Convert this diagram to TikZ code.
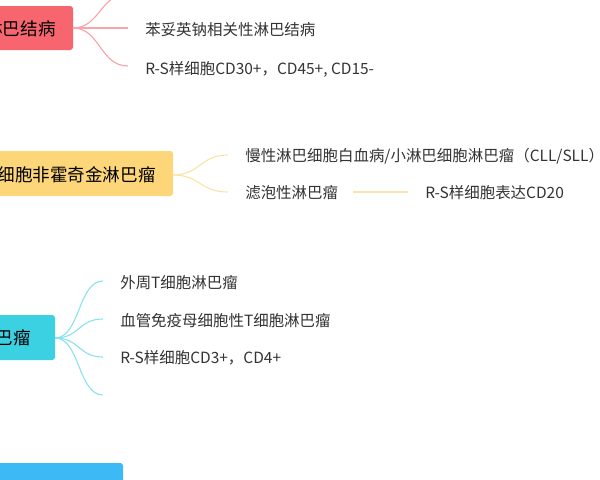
\documentclass[tikz,border=0pt]{standalone}
\usepackage{fontspec}
\setmainfont{Noto Sans CJK SC}
\usetikzlibrary{positioning}
\definecolor{redbox}{HTML}{F7656F}
\definecolor{redline}{HTML}{F9A3AA}
\definecolor{yelbox}{HTML}{FDD67A}
\definecolor{yelline}{HTML}{FCE3A8}
\definecolor{cyanbox}{HTML}{3CD0E3}
\definecolor{cyanline}{HTML}{8BE2EE}
\definecolor{bluebox}{HTML}{3DB9F5}
\definecolor{txt}{HTML}{333333}

\begin{document}
\begin{tikzpicture}[x=0.025cm,y=-0.025cm]
\tikzstyle{topic}=[rectangle,rounded corners=1.5pt,anchor=east,align=right,inner xsep=0pt,font=\fontsize{12.5}{14}\selectfont,text=black]
\tikzstyle{leaf}=[anchor=west,inner sep=0pt,font=\fontsize{11}{13}\selectfont,text=txt]
\tikzstyle{twig}=[line width=0.8pt]
\useasboundingbox (0,0) rectangle (600,480);
\clip (0,0) rectangle (600,480);
% red group
\fill[redbox,rounded corners=2pt] (-40,6) rectangle (73,50);
\node[topic] (lymph) at (56,29) {淋巴结病};
\coordinate (r0) at (128,-6);
\coordinate (r1) at (128,28);
\coordinate (r2) at (128,66);
\foreach \c in {r0,r1,r2}
  \draw[twig,redline] (73,28) .. controls (100,28) and (100,28|-\c) .. (\c);
\node[leaf] (phen) at (145,30) {苯妥英钠相关性淋巴结病};
\node[leaf] (rs1) at (145,69) {R-S样细胞CD30+，CD45+, CD15-};
% yellow group
\fill[yelbox,rounded corners=2pt] (-40,151) rectangle (173,196);
\node[topic] (bcell) at (156,175) {B细胞非霍奇金淋巴瘤};
\coordinate (y1) at (228,155);
\coordinate (y2) at (228,192);
\foreach \c in {y1,y2}
  \draw[twig,yelline] (173,175) .. controls (200,175) and (200,175|-\c) .. (\c);
\node[leaf] (cll) at (245,156) {慢性淋巴细胞白血病/小淋巴细胞淋巴瘤（CLL/SLL）};
\node[leaf] (foll) at (245,193) {滤泡性淋巴瘤};
\coordinate (y3) at (353,192);
\coordinate (y4) at (408,192);
\draw[twig,yelline] (y3) -- (y4);
\node[leaf] (rs2) at (425,193) {R-S样细胞表达CD20};
% cyan group
\fill[cyanbox,rounded corners=2pt] (-40,315) rectangle (55,360);
\node[topic] (tcell) at (31,338) {T细胞淋巴瘤};
\coordinate (c1) at (103,281);
\coordinate (c2) at (103,319);
\coordinate (c3) at (103,357);
\coordinate (c4) at (103,395);
\foreach \c in {c1,c2,c3,c4}
  \draw[twig,cyanline] (55,338) .. controls (80,338) and (78,338|-\c) .. (\c);
\node[leaf] (ptcl) at (120,283) {外周T细胞淋巴瘤};
\node[leaf] (aitl) at (120,321) {血管免疫母细胞性T细胞淋巴瘤};
\node[leaf] (rs3) at (120,358) {R-S样细胞CD3+，CD4+};
% blue group
\fill[bluebox,rounded corners=2pt] (-40,463) rectangle (123,510);
\end{tikzpicture}
\end{document}
